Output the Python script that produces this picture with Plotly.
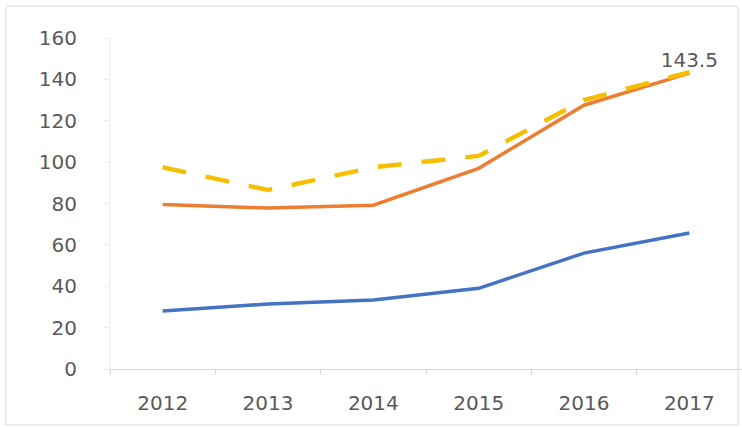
import plotly.graph_objects as go

# Data läst från bilden
years = ["2012", "2013", "2014", "2015", "2016", "2017"]
blue_values = [28, 31.4, 33.3, 39, 56, 65.7]
orange_values = [79.5, 77.8, 79.2, 97, 127.5, 143]
yellow_values = [97.5, 86.5, 97.5, 103, 130, 143.5]
yellow_labels = ["", "", "", "", "", "143.5"]
y_ticks = [0, 20, 40, 60, 80, 100, 120, 140, 160]

text_color = "#595959"
font_family = "DejaVu Sans"

fig = go.Figure()

# Blå linje
fig.add_trace(go.Scatter(
    x=years, y=blue_values, mode="lines",
    line=dict(color="#4472C4", width=3.5),
))

# Orange linje
fig.add_trace(go.Scatter(
    x=years, y=orange_values, mode="lines",
    line=dict(color="#ED7D31", width=3.5),
))

# Gul streckad linje med värdeetikett på sista punkten
fig.add_trace(go.Scatter(
    x=years, y=yellow_values, mode="lines+text",
    text=yellow_labels, textposition="top center",
    textfont=dict(color=text_color, size=20, family=font_family),
    line=dict(color="#F5BE00", width=4.5, dash="24px,20px"),
    cliponaxis=False,
))

fig.update_layout(
    width=742, height=427,
    margin=dict(l=110, r=0, t=38, b=58),
    paper_bgcolor="white", plot_bgcolor="white",
    showlegend=False,
    font=dict(family=font_family, color=text_color, size=20),
    # Ram runt diagrammet
    shapes=[dict(
        type="rect", xref="paper", yref="paper",
        x0=-0.1646, x1=0.9937, y0=-0.169, y1=1.0967,
        line=dict(color="#d9d9d9", width=1),
        layer="below",
    )],
)

fig.update_xaxes(
    type="category", range=[-0.5, 5.5],
    showgrid=False, showline=True, linecolor="#d9d9d9", linewidth=1,
    ticks="outside", tickson="boundaries", ticklen=5, tickcolor="#d9d9d9",
    ticklabelstandoff=16,
)
fig.update_yaxes(
    range=[0, 160], tickvals=y_ticks,
    showgrid=False, zeroline=False,
    showline=True, linecolor="#eeeeee", linewidth=1,
    ticks="outside", ticklen=6, tickcolor="#eeeeee",
    ticklabelstandoff=22,
)

# Ta bort webbläsarens standardmarginal så att grafen hamnar i hörnet
fig.write_html(
    "out.html",
    config={"displayModeBar": False},
    post_script="document.body.style.margin='0';",
)
